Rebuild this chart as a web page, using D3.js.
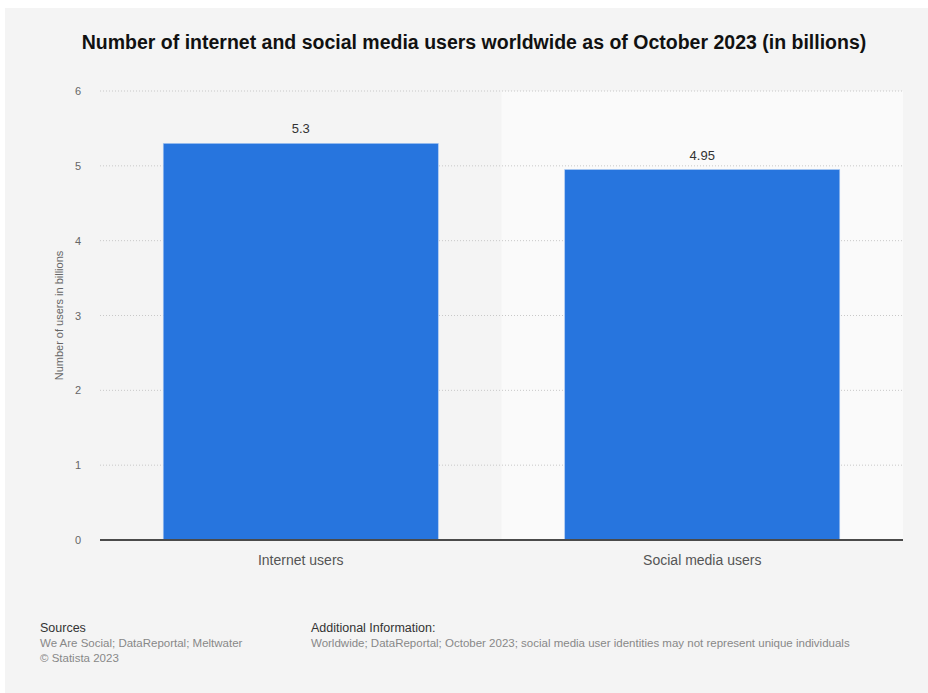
<!DOCTYPE html>
<html>
<head>
<meta charset="utf-8">
<script src="https://cdn.jsdelivr.net/npm/d3@7"></script>
<style>
  body{margin:0;background:#fff;}
  svg{display:block;font-family:"Liberation Sans",Arial,sans-serif;}
</style>
</head>
<body>
<svg></svg>
<script>
var categories = ["Internet users", "Social media users"]
var values = [5.3, 4.95]
var yTicks = [0, 1, 2, 3, 4, 5, 6]

var svg = d3.select("svg").attr("width", 928).attr("height", 693)

// page background
svg.append("rect").attr("x", 5).attr("y", 8).attr("width", 923).attr("height", 685).attr("fill", "#f4f4f4")

var mLeft = 100, mRight = 903, mTop = 91, mBottom = 540

var x = d3.scaleBand().domain(categories).range([mLeft, mRight]).paddingInner(0.315).paddingOuter(0.1575)
var xBand = d3.scaleBand().domain(categories).range([mLeft, mRight])
var y = d3.scaleLinear().domain([0, 6]).range([mBottom, mTop])

// alternating column shading
svg.selectAll("rect.band").data(categories).enter().append("rect")
  .attr("class", "band")
  .attr("x", d => xBand(d)).attr("y", mTop)
  .attr("width", xBand.bandwidth()).attr("height", mBottom - mTop)
  .attr("fill", (d, i) => i % 2 ? "#fafafa" : "#f4f4f4")

// gridlines
svg.selectAll("line.grid").data(yTicks.filter(t => t > 0)).enter().append("line")
  .attr("class", "grid")
  .attr("x1", mLeft).attr("x2", mRight)
  .attr("y1", d => y(d)).attr("y2", d => y(d))
  .attr("stroke", "#c8c8c8").attr("stroke-width", 1).attr("stroke-dasharray", "1,2")

// y tick labels
svg.selectAll("text.ytick").data(yTicks).enter().append("text")
  .attr("class", "ytick")
  .attr("x", 81).attr("y", d => y(d) + 4)
  .attr("text-anchor", "end")
  .attr("fill", "#666").style("font-size", "11px")
  .text(d => d)

// bars
svg.selectAll("rect.bar").data(values).enter().append("rect")
  .attr("class", "bar")
  .attr("x", (d, i) => x(categories[i]))
  .attr("y", d => y(d))
  .attr("width", x.bandwidth())
  .attr("height", d => mBottom - y(d))
  .attr("fill", "#2775de")
  .attr("stroke", "#a9c8f2").attr("stroke-width", 0.6)

// value labels
svg.selectAll("text.val").data(values).enter().append("text")
  .attr("class", "val")
  .attr("x", (d, i) => x(categories[i]) + x.bandwidth() / 2)
  .attr("y", d => y(d) - 10)
  .attr("text-anchor", "middle")
  .attr("fill", "#333").style("font-size", "13px")
  .text(d => d)

// baseline
svg.append("line").attr("x1", mLeft).attr("x2", mRight).attr("y1", mBottom).attr("y2", mBottom)
  .attr("stroke", "#4a4a4a").attr("stroke-width", 2)

// category labels
svg.selectAll("text.cat").data(categories).enter().append("text")
  .attr("class", "cat")
  .attr("x", d => x(d) + x.bandwidth() / 2)
  .attr("y", 565)
  .attr("text-anchor", "middle")
  .attr("fill", "#555").style("font-size", "14px")
  .text(d => d)

// y axis title
svg.append("text")
  .attr("transform", "translate(63," + ((mTop + mBottom) / 2) + ") rotate(-90)")
  .attr("text-anchor", "middle")
  .attr("fill", "#666").style("font-size", "11px")
  .text("Number of users in billions")

// title
svg.append("text")
  .attr("x", 474).attr("y", 49)
  .attr("text-anchor", "middle")
  .attr("fill", "#111").style("font-size", "19.5px").style("font-weight", "bold")
  .text("Number of internet and social media users worldwide as of October 2023 (in billions)")

// footer
var foot = svg.append("g").style("font-size", "11.5px")
foot.append("text").attr("x", 40).attr("y", 632).attr("fill", "#333").style("font-size", "12.5px").text("Sources")
foot.append("text").attr("x", 40).attr("y", 647).attr("fill", "#888").text("We Are Social; DataReportal; Meltwater")
foot.append("text").attr("x", 40).attr("y", 662).attr("fill", "#888").text("© Statista 2023")
foot.append("text").attr("x", 311).attr("y", 632).attr("fill", "#333").style("font-size", "12.5px").text("Additional Information:")
foot.append("text").attr("x", 311).attr("y", 647).attr("fill", "#888")
  .text("Worldwide; DataReportal; October 2023; social media user identities may not represent unique individuals")
</script>
</body>
</html>
